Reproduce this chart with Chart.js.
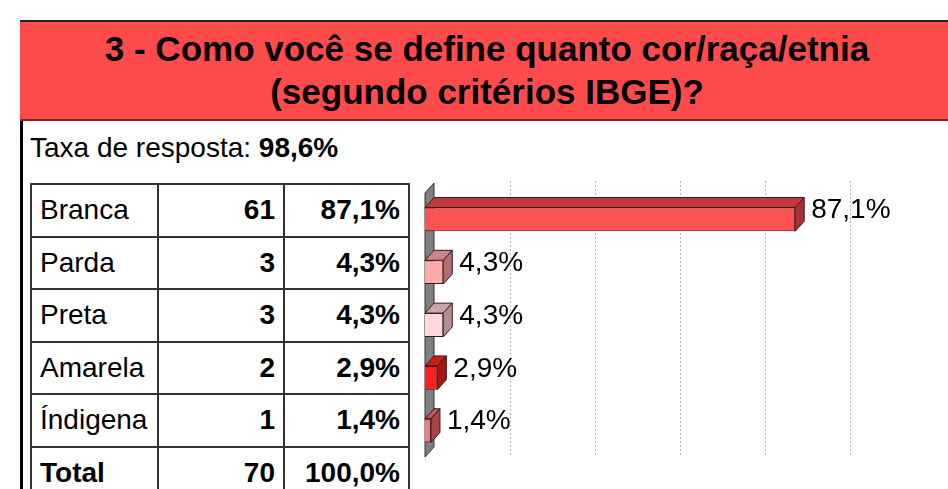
<!DOCTYPE html>
<html>
<head>
<meta charset="utf-8">
<script src="https://cdn.jsdelivr.net/npm/chart.js@4"></script>
<style>
    body { margin: 0; width: 948px; height: 489px; overflow: hidden; background: #fff; font-family: Arial, "Liberation Sans", sans-serif; position: relative; }
    #frame { position: absolute; left: 20px; top: 20px; width: 3px; height: 480px; background: #000; }
    #header { position: absolute; left: 20px; top: 20px; width: 940px; height: 97px; background: #FF4B4B; border-top: 2px solid #222; border-bottom: 2px solid #8a2020; }
    #header h1 { margin: 0; padding-top: 5px; padding-right: 6px; width: 934px; text-align: center; font-size: 35px; line-height: 43px; font-weight: bold; color: #000; }
    #rate { position: absolute; left: 30px; top: 132px; font-size: 28px; }
    #table { position: absolute; left: 30px; top: 183px; border-collapse: collapse; font-size: 28px; }
    #table td { border: 2px solid #333; height: 50.5px; padding: 0 8px; }
    #table td:nth-child(1) { width: 109px; text-align: left; }
    #table td:nth-child(2) { width: 108px; text-align: right; font-weight: bold; }
    #table td:nth-child(3) { width: 107px; text-align: right; font-weight: bold; }
    #table tr.total td { font-weight: bold; }
    #chartBox { position: absolute; left: 410px; top: 170px; width: 538px; height: 319px; }
</style>
</head>
<body>
<div id="frame"></div>
<div id="header"><h1>3 - Como você se define quanto cor/raça/etnia<br>(segundo critérios IBGE)?</h1></div>
<div id="rate">Taxa de resposta: <b>98,6%</b></div>
<table id="table"></table>
<div id="chartBox"><canvas id="chart" width="538" height="319"></canvas></div>
<script>
const categories = ['Branca', 'Parda', 'Preta', 'Amarela', 'Índigena'];
const counts = [61, 3, 3, 2, 1];
const percents = [87.1, 4.3, 4.3, 2.9, 1.4];
const totalCount = 70;
const totalPercent = 100.0;
const gridTicks = [20, 40, 60, 80, 100];

const frontColors = ['#FF5252', '#FFAAAA', '#FFD8DA', '#FF2020', '#F07C7C'];
const topColors = ['#C23A3C', '#C98587', '#C9A3A5', '#D01A1A', '#C45858'];
const sideColors = ['#A83234', '#B07072', '#B38F91', '#A81616', '#A84646'];

const fmt = v => v.toFixed(1).replace('.', ',') + '%';

// table on the left
const table = document.getElementById('table');
categories.forEach((cat, i) => {
    const row = document.createElement('tr');
    [cat, counts[i], fmt(percents[i])].forEach(txt => {
        const td = document.createElement('td');
        td.textContent = txt;
        row.appendChild(td);
    });
    table.appendChild(row);
});
const totalRow = document.createElement('tr');
totalRow.className = 'total';
['Total', totalCount, fmt(totalPercent)].forEach(txt => {
    const td = document.createElement('td');
    td.textContent = txt;
    totalRow.appendChild(td);
});
table.appendChild(totalRow);

const DX = 9, DY = 10;

const bars3d = {
    id: 'bars3d',
    beforeDatasetsDraw(chart) {
        const c = chart.ctx;
        const area = chart.chartArea;
        const x = chart.scales.x;
        // dotted grid lines
        c.save();
        c.strokeStyle = '#b8b8b8';
        c.lineWidth = 1;
        c.setLineDash([2, 2]);
        gridTicks.forEach(v => {
            const px = Math.round(x.getPixelForValue(v)) + 0.5;
            c.beginPath();
            c.moveTo(px, area.top - DY - 2);
            c.lineTo(px, area.bottom);
            c.stroke();
        });
        c.setLineDash([]);
        // grey floor wall
        const b = x.getPixelForValue(0);
        c.fillStyle = '#808080';
        c.strokeStyle = '#333';
        c.beginPath();
        c.moveTo(b, area.top);
        c.lineTo(b + DX, area.top - DY);
        c.lineTo(b + DX, area.bottom - DY);
        c.lineTo(b, area.bottom);
        c.closePath();
        c.fill();
        c.stroke();
        c.restore();
    },
    afterDatasetsDraw(chart) {
        const c = chart.ctx;
        const meta = chart.getDatasetMeta(0);
        c.save();
        c.strokeStyle = '#3a1a1a';
        c.lineWidth = 1;
        meta.data.forEach((bar, i) => {
            const top = bar.y - bar.height / 2;
            const bottom = bar.y + bar.height / 2;
            const l = bar.base, r = bar.x;
            c.fillStyle = topColors[i];
            c.beginPath();
            c.moveTo(l, top);
            c.lineTo(r, top);
            c.lineTo(r + DX, top - DY);
            c.lineTo(l + DX, top - DY);
            c.closePath();
            c.fill();
            c.stroke();
            c.fillStyle = sideColors[i];
            c.beginPath();
            c.moveTo(r, top);
            c.lineTo(r + DX, top - DY);
            c.lineTo(r + DX, bottom - DY);
            c.lineTo(r, bottom);
            c.closePath();
            c.fill();
            c.stroke();
            c.fillStyle = '#000';
            c.font = '28px Arial, "Liberation Sans", sans-serif';
            c.textBaseline = 'middle';
            c.textAlign = 'left';
            c.fillText(fmt(percents[i]), r + DX + 7, bar.y - 9);
        });
        c.restore();
    }
};

new Chart(document.getElementById('chart').getContext('2d'), {
    type: 'bar',
    data: {
        labels: categories,
        datasets: [{
            data: percents,
            backgroundColor: frontColors,
            borderColor: '#3a1a1a',
            borderWidth: 1,
            barPercentage: 0.45,
            categoryPercentage: 1
        }]
    },
    options: {
        indexAxis: 'y',
        responsive: false,
        animation: false,
        layout: { padding: { left: 15, right: 98, top: 23, bottom: 32 } },
        plugins: { legend: { display: false }, tooltip: { enabled: false } },
        scales: {
            x: { display: false, min: 0, max: 100 },
            y: { display: false }
        }
    },
    plugins: [bars3d]
});
</script>
</body>
</html>
